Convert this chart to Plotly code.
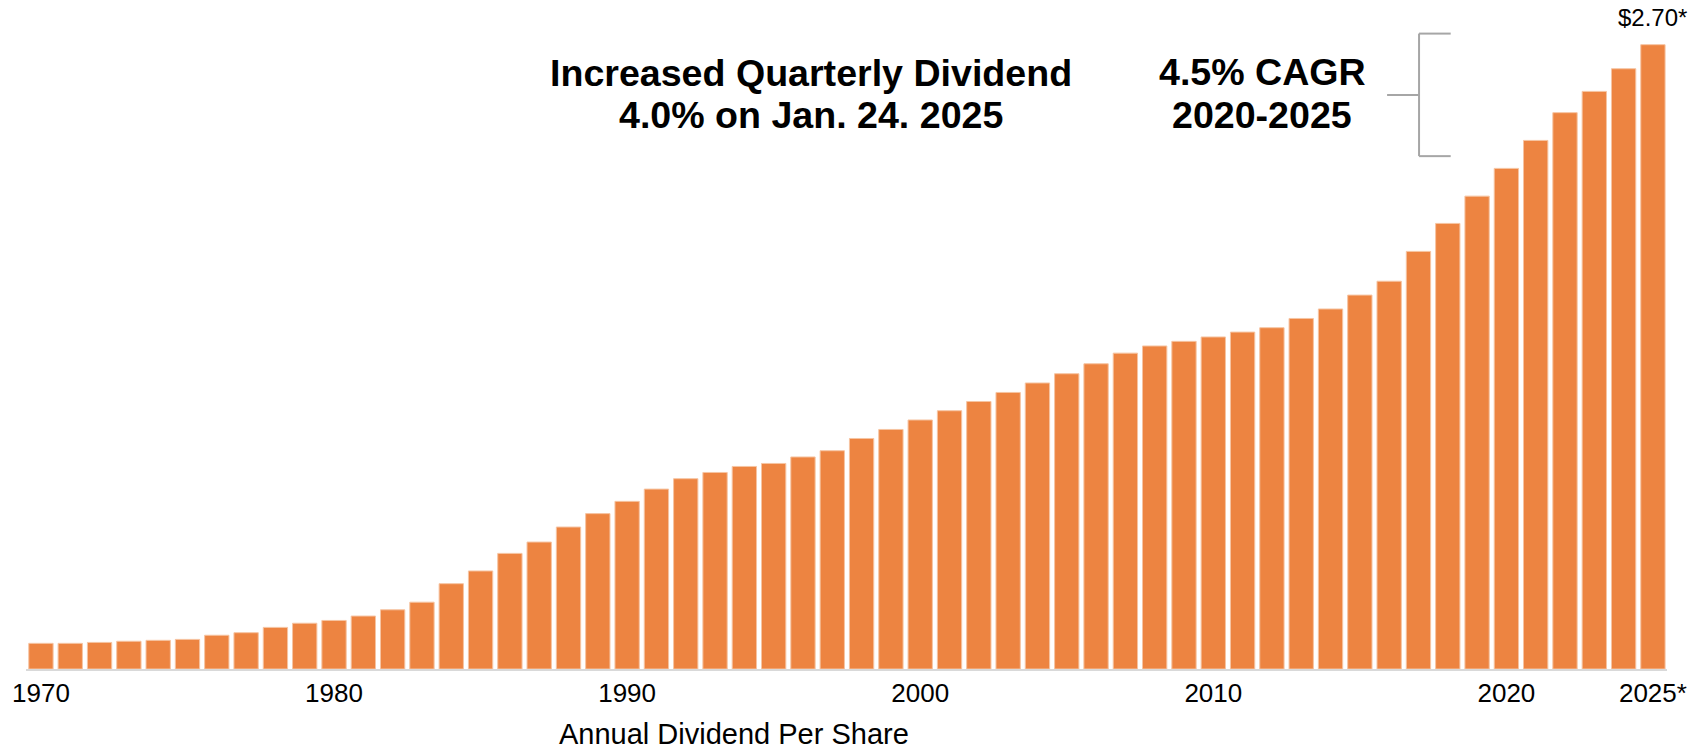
import plotly.graph_objects as go

years = list(range(1970, 2026))
dividends = [
    0.111, 0.111, 0.115, 0.120, 0.124, 0.128, 0.146, 0.157, 0.180, 0.198,
    0.210, 0.229, 0.256, 0.289, 0.369, 0.424, 0.500, 0.549, 0.614, 0.672,
    0.725, 0.778, 0.823, 0.850, 0.876, 0.889, 0.917, 0.944, 0.997, 1.036,
    1.077, 1.117, 1.157, 1.196, 1.237, 1.277, 1.320, 1.366, 1.397, 1.417,
    1.436, 1.457, 1.476, 1.516, 1.557, 1.617, 1.677, 1.806, 1.927, 2.045,
    2.165, 2.286, 2.406, 2.498, 2.596, 2.700,
]
tick_years = [1970, 1980, 1990, 2000, 2010, 2020, 2025]
tick_labels = ["1970", "1980", "1990", "2000", "2010", "2020", "2025*"]

FONT = "Liberation Sans, Arial, sans-serif"
ORANGE = "#ED8441"
GREY = "#A6A6A6"

W, H = 1702, 749
L, R, T, B = 26, 35, 10, 80
pw, ph = W - L - R, H - T - B


def px(x, y):
    # page pixel -> paper coords
    return (x - L) / pw, (H - B - y) / ph


fig = go.Figure()
fig.add_trace(
    go.Bar(
        x=years,
        y=dividends,
        marker=dict(color=ORANGE, line=dict(color="#F6C4A2", width=1)),
        hoverinfo="x+y",
    )
)

# last value label
fig.add_annotation(
    x=years[-1], y=dividends[-1], text="$2.70*", showarrow=False,
    yanchor="bottom", yshift=12, font=dict(family=FONT, size=24, color="black"),
)

big = dict(family=FONT, size=37.6, color="black")
texts = [
    (811, 73, "<b>Increased Quarterly Dividend</b>", big),
    (811, 115, "<b>4.0% on Jan. 24. 2025</b>", big),
    (1262, 72, "<b>4.5% CAGR</b>", big),
    (1262, 115, "<b>2020-2025</b>", big),
    (734, 734, "Annual Dividend Per Share", dict(family=FONT, size=29, color="black")),
]
for x, y, t, f in texts:
    ax, ay = px(x, y)
    fig.add_annotation(x=ax, y=ay, xref="paper", yref="paper", text=t, showarrow=False,
                       xanchor="center", yanchor="middle", borderpad=0, font=f)

# bracket for the CAGR
bx, bxr, bxl = 2017.02, 2018.1, 2015.93
btop, bbot, bmid = 2.748, 2.218, 2.482
line = dict(color=GREY, width=2)
fig.add_shape(type="line", x0=bx, x1=bx, y0=bbot, y1=btop, line=line)
fig.add_shape(type="line", x0=bx, x1=bxr, y0=btop, y1=btop, line=line)
fig.add_shape(type="line", x0=bx, x1=bxr, y0=bbot, y1=bbot, line=line)
fig.add_shape(type="line", x0=bxl, x1=bx, y0=bmid, y1=bmid, line=line)

fig.update_layout(
    width=W, height=H,
    margin=dict(l=L, r=R, t=T, b=B),
    plot_bgcolor="white", paper_bgcolor="white",
    bargap=0.17,
    showlegend=False,
    font=dict(family=FONT, color="black"),
    xaxis=dict(
        range=[1969.49, 2025.48],
        tickvals=tick_years, ticktext=tick_labels,
        tickfont=dict(size=26, color="black"),
        showline=True, linecolor="#D9D9D9", linewidth=2,
        showgrid=False, zeroline=False, ticks="",
    ),
    yaxis=dict(range=[0, 2.85], visible=False, showgrid=False, zeroline=False),
)

# drop the default body margin so the figure fills the window
fig.write_html(
    "out.html",
    config={"displayModeBar": False},
    post_script="document.body.style.margin='0';document.body.style.overflow='hidden';",
)
